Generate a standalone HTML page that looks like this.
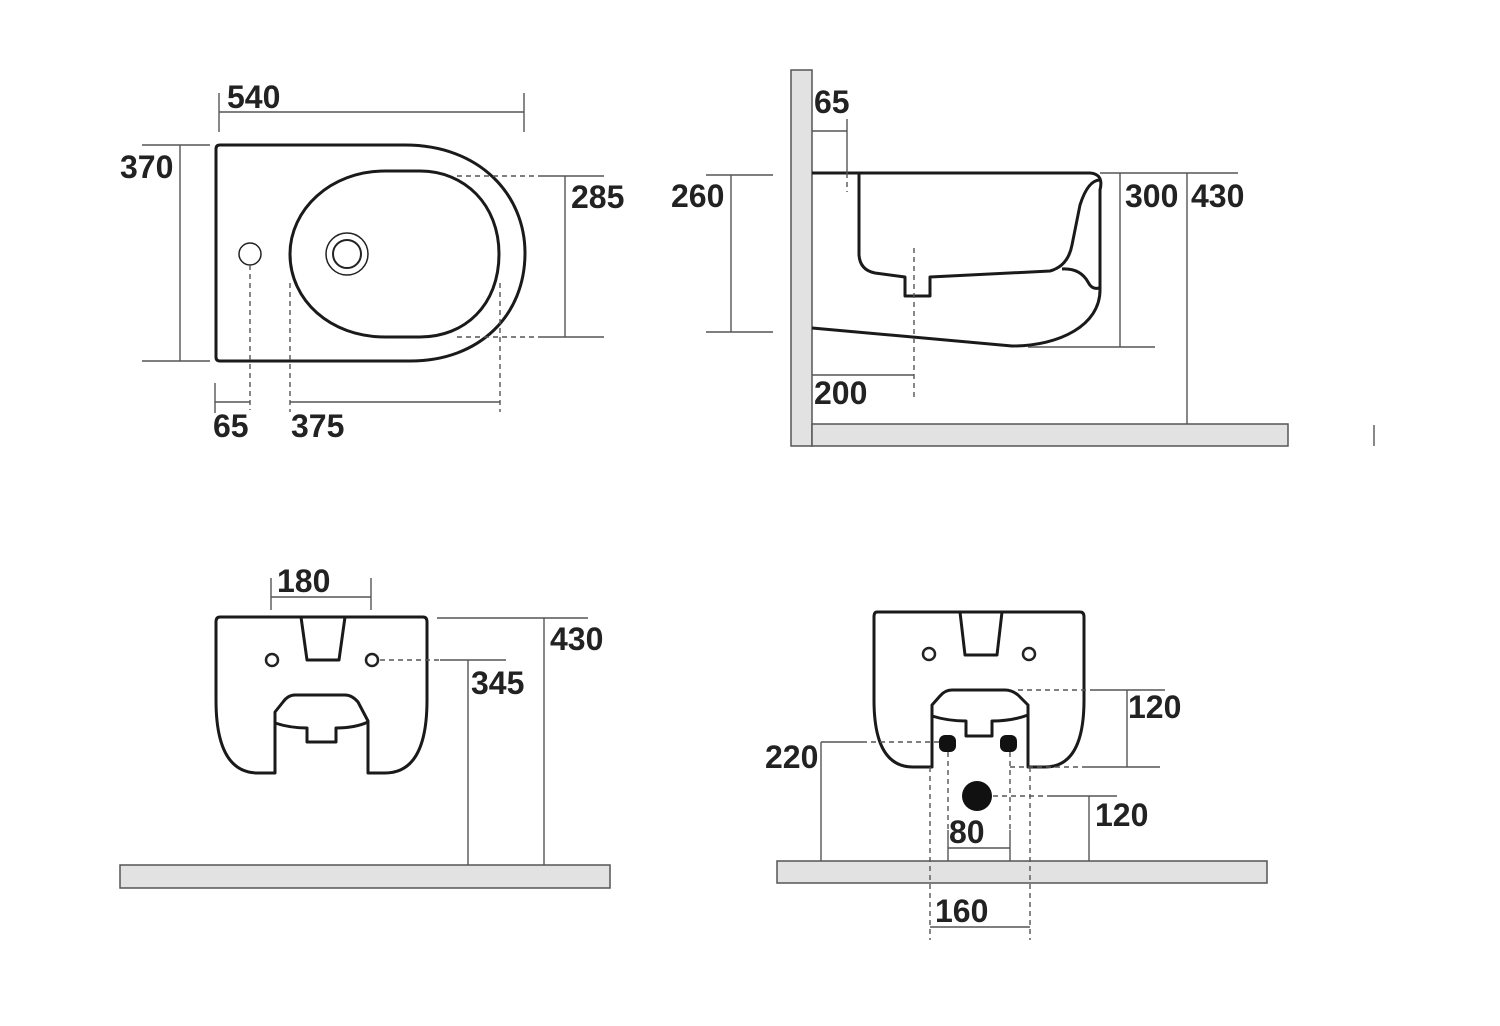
<!DOCTYPE html>
<html><head><meta charset="utf-8"><style>
html,body{margin:0;padding:0;background:#fff;}
svg{display:block;}
text{font-family:"Liberation Sans",sans-serif;font-weight:bold;font-size:32px;fill:#222;letter-spacing:0px;}
.o{fill:none;stroke:#1a1a1a;stroke-width:3;stroke-linejoin:round;}
.d{fill:none;stroke:#555;stroke-width:1.4;}
.da{fill:none;stroke:#555;stroke-width:1.4;stroke-dasharray:5,4;}
.f{fill:#e2e2e2;stroke:#555;stroke-width:1.5;}
</style></head><body>
<svg width="1500" height="1026" viewBox="0 0 1500 1026" xmlns="http://www.w3.org/2000/svg">
<!-- TOP LEFT -->
<path class="o" d="M220,145 L405,145 C480,145 525,195 525,253 C525,315 480,361 410,361 L220,361 Q216,361 216,357 L216,149 Q216,145 220,145 Z"/>
<path class="o" d="M385,171 L420,171 C465,171 499,205 499,254 C499,305 465,337 420,337 L385,337 C330,337 290,300 290,254 C290,210 330,171 385,171 Z"/>
<circle cx="347" cy="254" r="21" fill="none" stroke="#222" stroke-width="1.5"/>
<circle cx="347" cy="254" r="14" fill="none" stroke="#222" stroke-width="2"/>
<circle cx="250" cy="254" r="11" fill="none" stroke="#222" stroke-width="1.5"/>
<line class="d" x1="219" y1="93" x2="219" y2="132"/><line class="d" x1="524" y1="93" x2="524" y2="132"/><line class="d" x1="219" y1="112" x2="524" y2="112"/>
<text x="227" y="108">540</text>
<line class="d" x1="142" y1="145" x2="210" y2="145"/><line class="d" x1="142" y1="361" x2="210" y2="361"/><line class="d" x1="180" y1="145" x2="180" y2="361"/>
<text x="120" y="178">370</text>
<line class="da" x1="457" y1="176" x2="540" y2="176"/><line class="d" x1="540" y1="176" x2="604" y2="176"/>
<line class="da" x1="457" y1="337" x2="540" y2="337"/><line class="d" x1="540" y1="337" x2="604" y2="337"/>
<line class="d" x1="565" y1="176" x2="565" y2="337"/>
<text x="571" y="208">285</text>
<line class="da" x1="250" y1="265" x2="250" y2="410"/><line class="da" x1="290" y1="283" x2="290" y2="412"/><line class="da" x1="500" y1="283" x2="500" y2="412"/>
<line class="d" x1="215" y1="383" x2="215" y2="413"/><line class="d" x1="215" y1="402" x2="250" y2="402"/><line class="d" x1="290" y1="402" x2="500" y2="402"/>
<text x="213" y="437">65</text><text x="291" y="437">375</text>

<!-- TOP RIGHT -->
<rect class="f" x="791" y="70" width="21" height="376"/>
<rect class="f" x="812" y="424" width="476" height="22"/>
<path class="o" d="M812,173 L1090,173 Q1104,174 1100,190 L1100,290 C1100,325 1060,346 1012,346 L812,328"/>
<path class="o" d="M859,173 L859,255 Q860,270 875,273 L905,277 L905,296 L930,296 L930,277 L1050,271 Q1068,266 1072,245 L1080,205 Q1088,180 1100,180"/>
<path class="o" d="M1062,269 Q1080,268 1088,282 Q1092,290 1099,288"/>
<line class="d" x1="847" y1="119" x2="847" y2="173"/><line class="da" x1="847" y1="173" x2="847" y2="192"/>
<line class="d" x1="812" y1="131" x2="847" y2="131"/>
<text x="814" y="113">65</text>
<line class="d" x1="706" y1="175" x2="773" y2="175"/><line class="d" x1="706" y1="332" x2="773" y2="332"/><line class="d" x1="731" y1="175" x2="731" y2="332"/>
<text x="671" y="207">260</text>
<line class="da" x1="914" y1="248" x2="914" y2="398"/><line class="d" x1="812" y1="375" x2="914" y2="375"/>
<text x="814" y="404">200</text>
<line class="d" x1="1100" y1="173" x2="1238" y2="173"/><line class="d" x1="1028" y1="347" x2="1155" y2="347"/>
<line class="d" x1="1120" y1="173" x2="1120" y2="347"/><line class="d" x1="1187" y1="173" x2="1187" y2="424"/>
<text x="1125" y="207">300</text><text x="1191" y="207">430</text>
<line class="d" x1="1374" y1="425" x2="1374" y2="446"/>

<!-- BOTTOM LEFT -->
<rect class="f" x="120" y="865" width="490" height="23"/>
<path class="o" d="M220,617 L423,617 Q427,617 427,622 L427,700 Q427,773 385,773 L368,773 L368,721 L358,702 Q352,695 345,695 L295,695 Q288,695 283,702 L275,712 L275,773 L258,773 Q216,773 216,700 L216,622 Q216,617 220,617 Z"/>
<path class="o" d="M275,723 Q290,728 307,728 L307,742 L336,742 L336,728 Q355,728 368,722"/>
<path class="o" d="M301,617 L307,660 L339,660 L345,617"/>
<circle cx="272" cy="660" r="6" fill="none" stroke="#222" stroke-width="2.5"/>
<circle cx="372" cy="660" r="6" fill="none" stroke="#222" stroke-width="2.5"/>
<line class="d" x1="271" y1="578" x2="271" y2="610"/><line class="d" x1="371" y1="578" x2="371" y2="610"/><line class="d" x1="271" y1="597" x2="371" y2="597"/>
<text x="277" y="592">180</text>
<line class="d" x1="437" y1="618" x2="588" y2="618"/><line class="d" x1="544" y1="618" x2="544" y2="865"/>
<text x="550" y="650">430</text>
<line class="da" x1="380" y1="660" x2="440" y2="660"/><line class="d" x1="440" y1="660" x2="506" y2="660"/><line class="d" x1="468" y1="660" x2="468" y2="865"/>
<text x="471" y="694">345</text>

<!-- BOTTOM RIGHT -->
<rect class="f" x="777" y="861" width="490" height="22"/>
<path class="o" d="M877,612 L1080,612 Q1084,612 1084,617 L1084,700 Q1084,767 1045,767 L1028,767 L1028,705 L1018,695 Q1012,690 1005,690 L952,690 Q945,690 940,696 L932,705 L932,767 L913,767 Q874,767 874,700 L874,617 Q874,612 877,612 Z"/>
<path class="o" d="M932,716 Q948,721 966,721 L966,736 L992,736 L992,721 Q1012,721 1028,715"/>
<path class="o" d="M960,612 L965,655 L997,655 L1002,612"/>
<circle cx="929" cy="654" r="6" fill="none" stroke="#222" stroke-width="2.5"/>
<circle cx="1029" cy="654" r="6" fill="none" stroke="#222" stroke-width="2.5"/>
<rect x="939" y="735" width="17" height="17" rx="6" fill="#111"/>
<rect x="1000" y="735" width="17" height="17" rx="6" fill="#111"/>
<circle cx="977" cy="796" r="15" fill="#111"/>
<line class="da" x1="1018" y1="690" x2="1095" y2="690"/><line class="d" x1="1095" y1="690" x2="1165" y2="690"/>
<line class="da" x1="1010" y1="767" x2="1085" y2="767"/><line class="d" x1="1085" y1="767" x2="1160" y2="767"/>
<line class="d" x1="1127" y1="690" x2="1127" y2="767"/>
<text x="1128" y="718">120</text>
<line class="d" x1="821" y1="742" x2="862" y2="742"/><line class="da" x1="862" y1="742" x2="940" y2="742"/><line class="d" x1="821" y1="742" x2="821" y2="861"/>
<text x="765" y="768">220</text>
<line class="da" x1="993" y1="796" x2="1050" y2="796"/><line class="d" x1="1050" y1="796" x2="1117" y2="796"/><line class="d" x1="1089" y1="796" x2="1089" y2="861"/>
<text x="1095" y="826">120</text>
<line class="da" x1="948" y1="752" x2="948" y2="830"/><line class="d" x1="948" y1="830" x2="948" y2="861"/>
<line class="da" x1="1010" y1="752" x2="1010" y2="830"/><line class="d" x1="1010" y1="830" x2="1010" y2="861"/>
<line class="d" x1="948" y1="848" x2="1010" y2="848"/>
<text x="949" y="843">80</text>
<line class="da" x1="930" y1="767" x2="930" y2="940"/><line class="da" x1="1030" y1="767" x2="1030" y2="940"/>
<line class="d" x1="930" y1="927" x2="1030" y2="927"/>
<text x="935" y="922">160</text>
</svg>
</body></html>
